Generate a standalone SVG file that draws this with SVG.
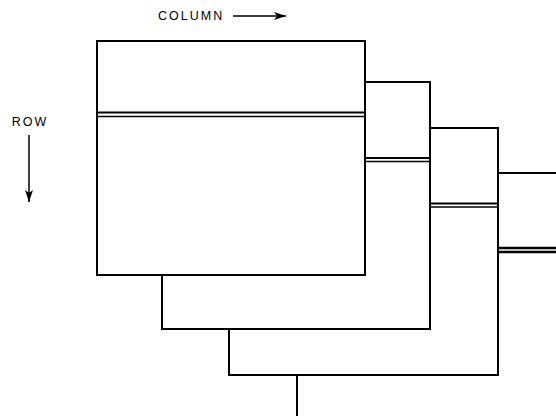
<svg xmlns="http://www.w3.org/2000/svg" width="556" height="416" viewBox="0 0 556 416">
  <defs>
    <style>
      .plane { fill: #fff; stroke: #000; stroke-width: 2; }
      .band { stroke: #000; fill: none; }
      .label { font-family: "Liberation Sans", Arial, sans-serif; font-size: 12.5px; letter-spacing: 2px; fill: #000; }
      .axis { stroke: #000; stroke-width: 1.5; fill: none; }
    </style>
    <marker id="head" viewBox="0 0 12 8" refX="12" refY="4" markerWidth="12" markerHeight="8" markerUnits="userSpaceOnUse" orient="auto">
      <path d="M0,0 L12,4 L0,8 L3,4 Z" fill="#000"/>
    </marker>
  </defs>

  <rect width="556" height="416" fill="#fff"/>

  <!-- stacked planes, back to front -->
  <g id="plane4">
    <rect class="plane" x="297" y="173" width="300" height="300"/>
    <line class="band" x1="297" y1="248" x2="597" y2="248" stroke-width="2.5"/>
    <line class="band" x1="297" y1="252" x2="597" y2="252" stroke-width="2.5"/>
  </g>
  <g id="plane3">
    <rect class="plane" x="229" y="128" width="269" height="247"/>
    <line class="band" x1="229" y1="203.5" x2="498" y2="203.5" stroke-width="1.8"/>
    <line class="band" x1="229" y1="207" x2="498" y2="207" stroke-width="1.5"/>
  </g>
  <g id="plane2">
    <rect class="plane" x="162" y="82" width="268" height="247"/>
    <line class="band" x1="162" y1="158" x2="430" y2="158" stroke-width="1.8"/>
    <line class="band" x1="162" y1="161.5" x2="430" y2="161.5" stroke-width="1.5"/>
  </g>
  <g id="plane1">
    <rect class="plane" x="97" y="41" width="268" height="234"/>
    <line class="band" x1="97" y1="112.5" x2="365" y2="112.5" stroke-width="2"/>
    <line class="band" x1="97" y1="116.5" x2="365" y2="116.5" stroke-width="1.5"/>
  </g>

  <!-- axis labels -->
  <g id="column-axis">
    <text class="label" x="158" y="19.5">COLUMN</text>
    <line class="axis" x1="233" y1="16" x2="286" y2="16" marker-end="url(#head)"/>
  </g>
  <g id="row-axis">
    <text class="label" x="30" y="126" text-anchor="middle">ROW</text>
    <line class="axis" x1="29" y1="135" x2="29" y2="202" marker-end="url(#head)"/>
  </g>
</svg>
